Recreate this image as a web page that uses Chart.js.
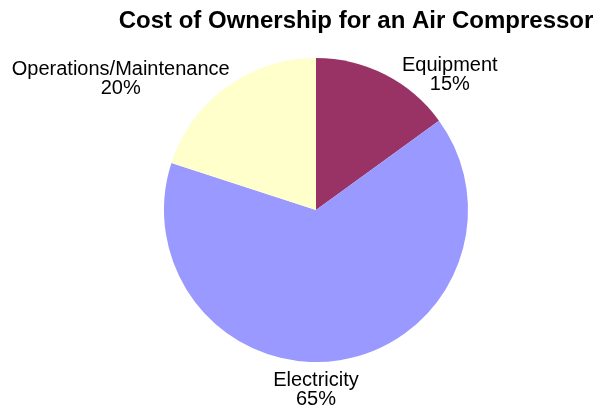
<!DOCTYPE html>
<html>
<head>
<meta charset="utf-8">
<script src="https://cdn.jsdelivr.net/npm/chart.js@4/dist/chart.umd.min.js"></script>
<style>
  html, body { margin: 0; padding: 0; background: #fff; }
  #chart { display: block; }
</style>
</head>
<body>
<canvas id="chart" width="598" height="411"></canvas>
<script>
const title = "Cost of Ownership for an Air Compressor";
const categories = ["Equipment", "Electricity", "Operations/Maintenance"];
const shares = [15, 65, 20];
const colors = ["#993366", "#9999FF", "#FFFFCC"];

// labels outside the pie, placed from each arc's middle angle
const outsideLabels = {
    id: "outsideLabels",
    afterDatasetsDraw(chart) {
        const ctx = chart.ctx;
        const arcs = chart.getDatasetMeta(0).data;
        ctx.save();
        ctx.font = "20px 'Liberation Sans', Arial, sans-serif";
        ctx.fillStyle = "#000";
        ctx.textBaseline = "alphabetic";
        arcs.forEach((arc, i) => {
            const p = arc.getProps(["x", "y", "startAngle", "endAngle", "outerRadius"], true);
            const mid = (p.startAngle + p.endAngle) / 2;
            const px = p.x + p.outerRadius * Math.cos(mid);
            const py = p.y + p.outerRadius * Math.sin(mid);
            const lines = [categories[i], shares[i] + "%"];
            const w = Math.max(...lines.map(t => ctx.measureText(t).width));
            let cx, top;
            if (Math.abs(Math.cos(mid)) < 0.35) {
                cx = p.x;
                top = Math.sin(mid) > 0 ? py + 26 : py - 45;
            } else if (Math.cos(mid) > 0) {
                cx = px + 17 + w / 2;
                top = py - 4;
            } else {
                cx = px + 3 - w / 2;
                top = py - 12;
            }
            ctx.textAlign = "center";
            lines.forEach((t, k) => ctx.fillText(t, cx, top + k * 19));
        });
        ctx.font = "bold 24px 'Liberation Sans', Arial, sans-serif";
        ctx.textAlign = "center";
        ctx.fillText(title, 356, 28);
        ctx.restore();
    }
};

new Chart(document.getElementById("chart").getContext("2d"), {
    type: "pie",
    data: {
        labels: categories,
        datasets: [{
            data: shares,
            backgroundColor: colors,
            borderWidth: 0
        }]
    },
    options: {
        responsive: false,
        animation: false,
        layout: { padding: { top: 58, bottom: 49, left: 164, right: 130 } },
        plugins: {
            legend: { display: false },
            tooltip: { enabled: false }
        }
    },
    plugins: [outsideLabels]
});
</script>
</body>
</html>
